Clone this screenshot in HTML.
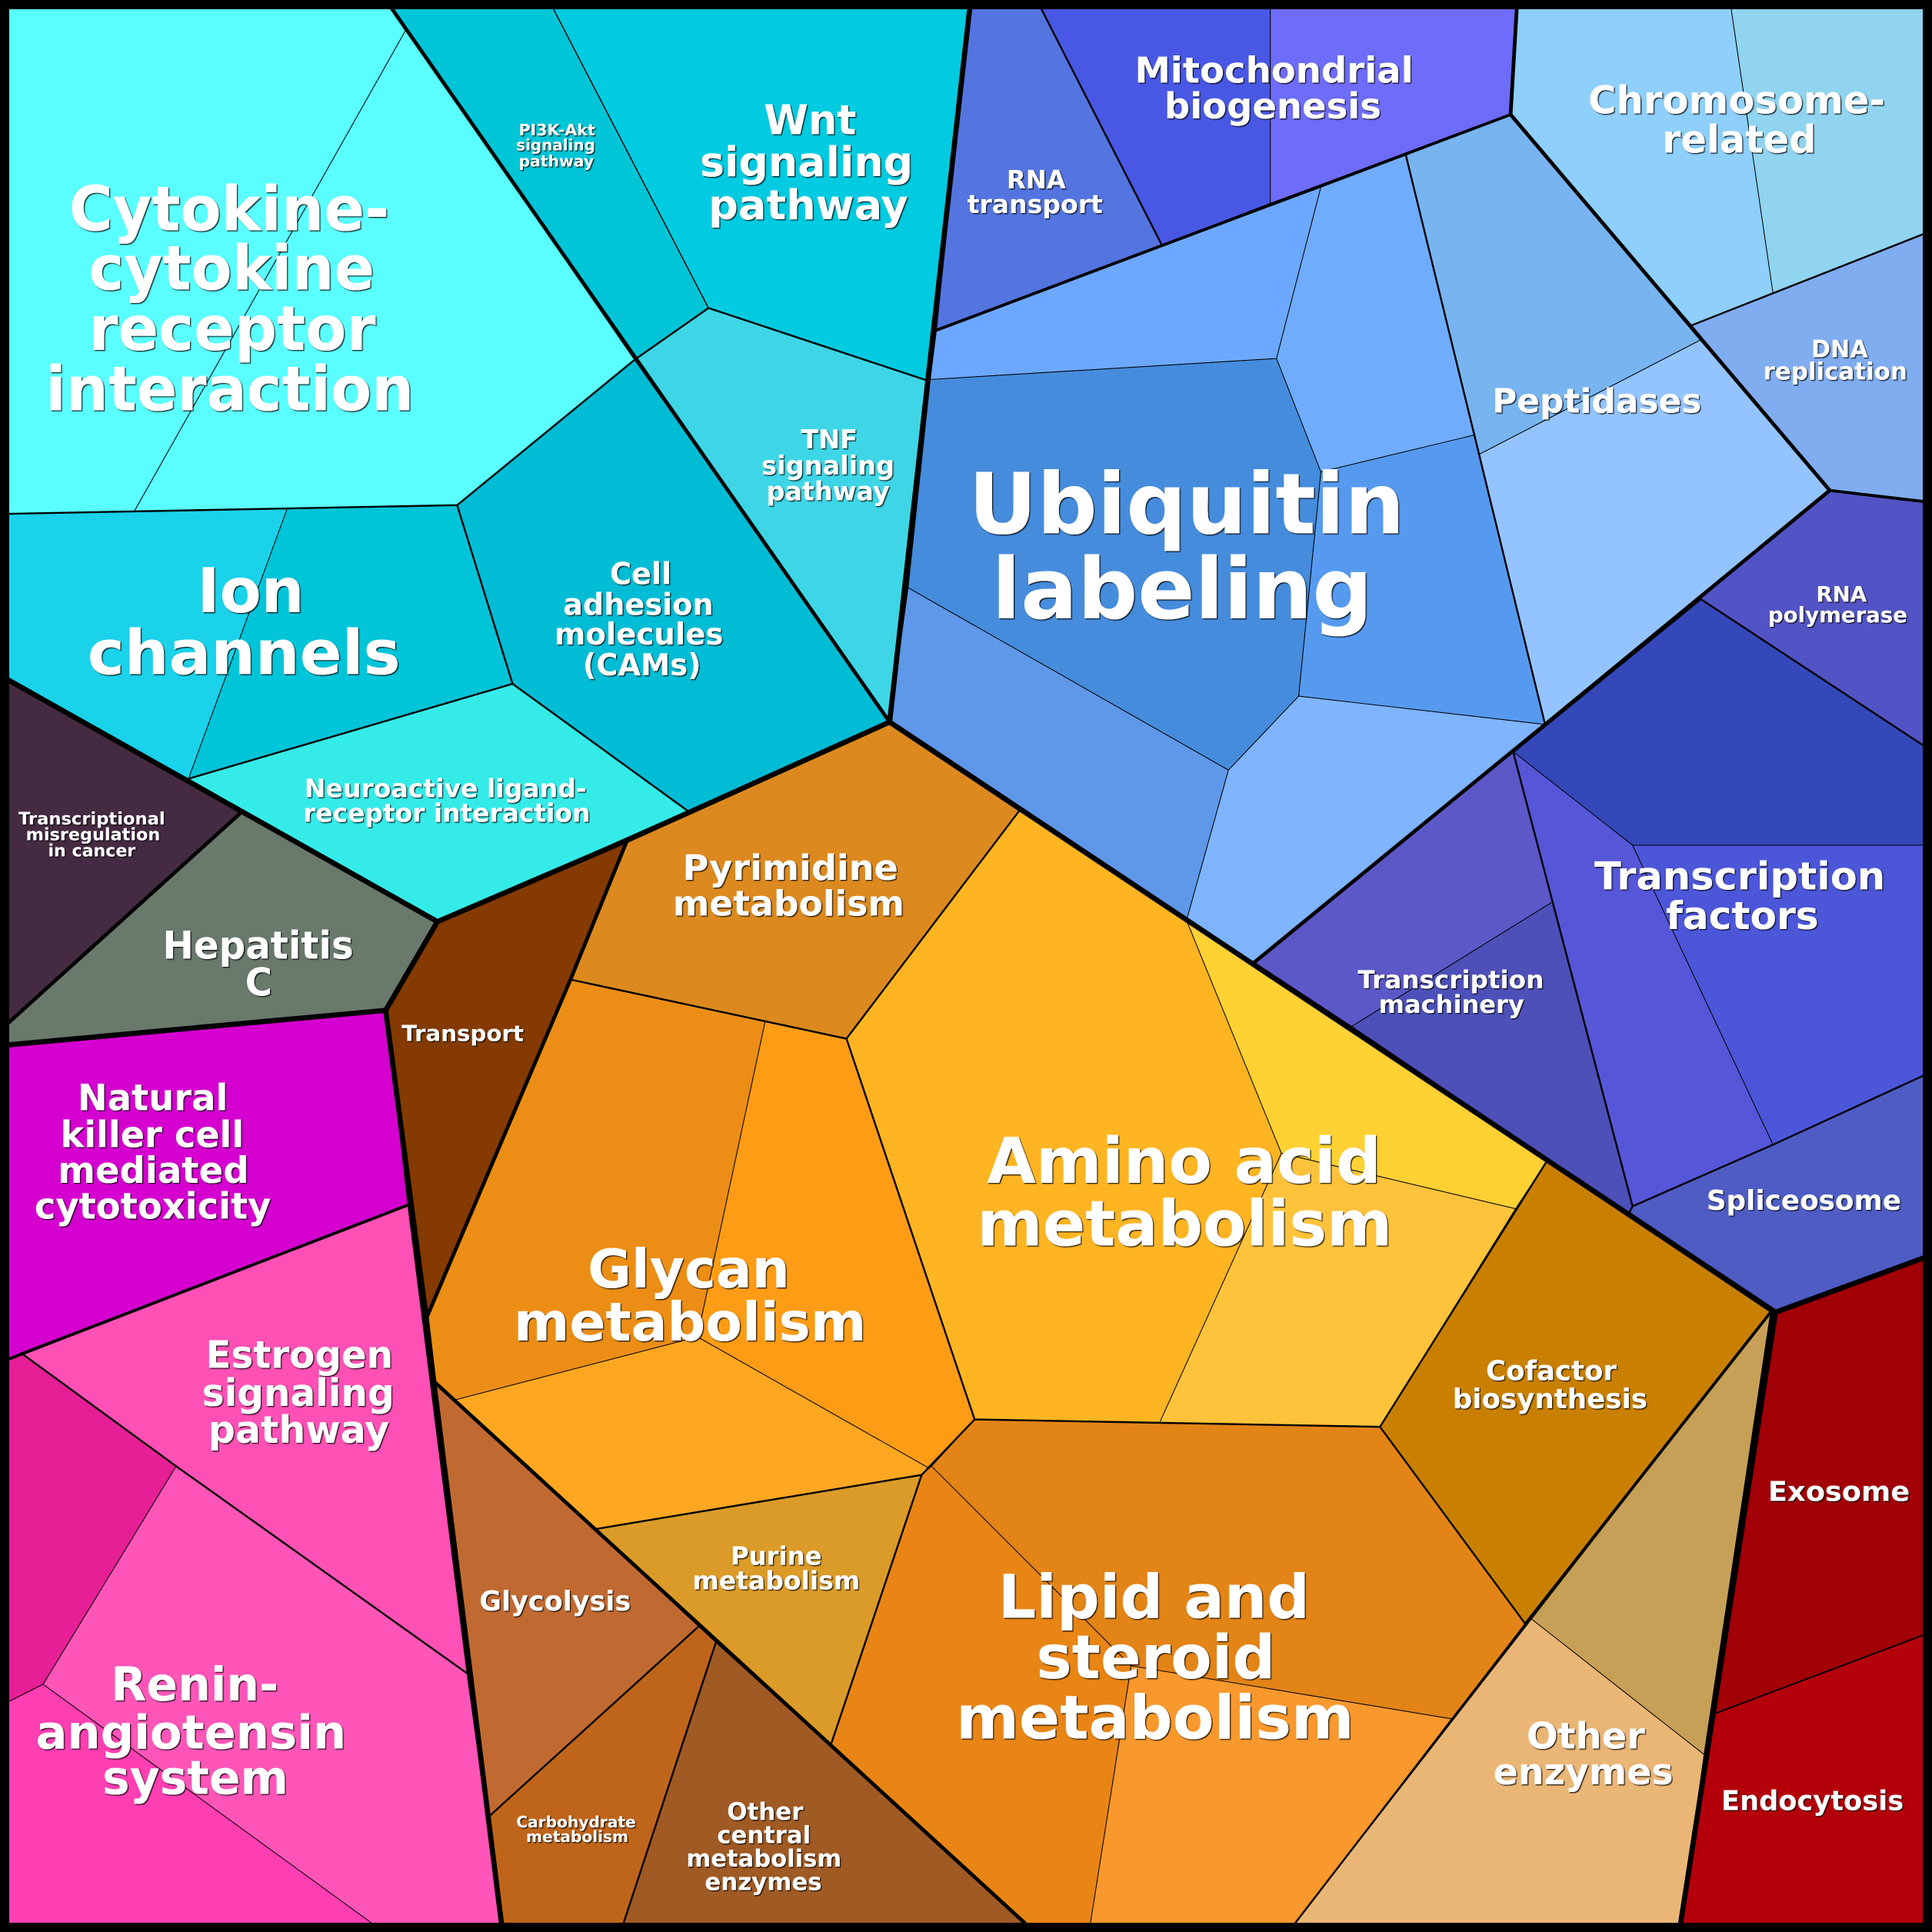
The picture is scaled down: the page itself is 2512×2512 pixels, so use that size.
<!DOCTYPE html>
<html><head><meta charset="utf-8"><style>
html,body{margin:0;padding:0;background:#000}
svg{display:block}
text{font-family:"DejaVu Sans","Liberation Sans",sans-serif;font-weight:bold;fill:#fff}
</style></head><body>
<svg width="2512" height="2512" viewBox="0 0 1568 1568" xmlns="http://www.w3.org/2000/svg">
<defs><filter id="s" x="-5%" y="-5%" width="110%" height="110%"><feDropShadow dx="0.8" dy="0.8" stdDeviation="0.3" flood-color="#000" flood-opacity="0.85"/></filter></defs>
<rect width="1568" height="1568" fill="#000"/>
<g stroke="#000" stroke-width="0.6" stroke-linejoin="round">
<polygon fill="#5affff" points="7,7 318,7 329,25 109,415 7,417"/>
<polygon fill="#5affff" points="318,7 515,292 371,410 109,415 329,25"/>
<polygon fill="#00c5d6" points="318,7 449,7 575,250 515,292"/>
<polygon fill="#00cbe0" points="449,7 787,7 753,309 575,250"/>
<polygon fill="#3ed6e6" points="575,250 753,309 722,586 515,292"/>
<polygon fill="#00bcd4" points="515,292 722,586 558,658 416,555 371,410"/>
<polygon fill="#35ebe8" points="416,555 558,658 355,748 153,632"/>
<polygon fill="#1ad2ea" points="7,417 233,413 153,632 7,552"/>
<polygon fill="#00c4d8" points="233,413 371,410 416,555 153,632"/>
<polygon fill="#452b42" points="7,552 195,660 7,830"/>
<polygon fill="#69796c" points="195,660 355,748 313,820 7,848 7,830"/>
<polygon fill="#843a00" points="355,748 509,682 463,795 346,1070 313,820"/>
<polygon fill="#d500cf" points="7,848 313,820 331,978 7,1103"/>
<polygon fill="#ff50b5" points="17,1098 331,978 379,1358 143,1190"/>
<polygon fill="#e61f96" points="7,1103 17,1098 143,1190 35,1367 7,1381"/>
<polygon fill="#ff55b8" points="143,1190 379,1358 407,1561 302,1561 35,1367"/>
<polygon fill="#ff3eb2" points="7,1381 35,1367 302,1561 7,1561"/>
<polygon fill="#c06a32" points="352,1121 567,1320 396,1475"/>
<polygon fill="#bf651b" points="396,1475 567,1320 581,1333 506,1561 407,1561"/>
<polygon fill="#a05a24" points="581,1333 832,1561 506,1561"/>
<polygon fill="#db9b28" points="483,1241 748,1197 674,1417"/>
<polygon fill="#ec8e15" points="463,795 621,829 566,1085 370,1136 352,1121 346,1070"/>
<polygon fill="#fe9c15" points="621,829 687,843 791,1152 753,1191 566,1085"/>
<polygon fill="#ffa720" points="370,1136 566,1085 753,1191 748,1197 483,1241"/>
<polygon fill="#dc8a1f" points="509,682 722,586 828,657 687,843 463,795"/>
<polygon fill="#ffb522" points="828,657 963,747 1040,936 941,1155 791,1152 687,843"/>
<polygon fill="#ffd133" points="963,747 1255,943 1230,981 1040,936"/>
<polygon fill="#ffc33b" points="1040,936 1230,981 1120,1158 941,1155"/>
<polygon fill="#c98000" points="1255,943 1437,1065 1238,1318 1120,1158"/>
<polygon fill="#c6a056" points="1437,1065 1383,1424 1243,1314"/>
<polygon fill="#eab676" points="1243,1314 1383,1424 1364,1561 1051,1561"/>
<polygon fill="#e38417" points="791,1152 1120,1158 1238,1318 1178,1395 918,1352 756,1190"/>
<polygon fill="#e98515" points="756,1190 918,1352 885,1561 832,1561 674,1417 748,1197"/>
<polygon fill="#f9982c" points="918,1352 1178,1395 1051,1561 885,1561"/>
<polygon fill="#a00006" points="1441,1065 1561,1021 1561,1327 1391,1391"/>
<polygon fill="#b3000b" points="1391,1391 1561,1327 1561,1561 1364,1561"/>
<polygon fill="#4e5cc4" points="1322,985 1325,979 1439,929 1561,873 1561,1021 1441,1065"/>
<polygon fill="#3448ba" points="1228,610 1380,486 1561,605 1561,686 1325,686"/>
<polygon fill="#5656d8" points="1228,610 1325,686 1439,929 1325,979"/>
<polygon fill="#4c56d9" points="1325,686 1561,686 1561,873 1439,929"/>
<polygon fill="#5253c5" points="1485,398 1561,407 1561,605 1380,486"/>
<polygon fill="#5c58c8" points="1018,781 1228,610 1260,732 1097,833"/>
<polygon fill="#4c50b8" points="1097,833 1260,732 1325,979 1322,985"/>
<polygon fill="#80acf0" points="1373,264 1561,190 1561,407 1485,398"/>
<polygon fill="#8ecffc" points="1231,7 1405,7 1439,238 1373,264 1226,93"/>
<polygon fill="#90d4f0" points="1405,7 1561,7 1561,190 1439,238"/>
<polygon fill="#78b4f0" points="1141,126 1226,93 1380,276 1200,369"/>
<polygon fill="#94c4ff" points="1200,369 1380,276 1485,398 1254,588"/>
<polygon fill="#4858e4" points="845,7 1031,7 1031,165 943,199"/>
<polygon fill="#6e6cfa" points="1031,7 1231,7 1226,93 1031,165"/>
<polygon fill="#5474e0" points="787,7 845,7 943,199 760,268"/>
<polygon fill="#6ca8ff" points="760,268 1072,152 1036,291 755,308"/>
<polygon fill="#70acfe" points="1072,152 1141,126 1197,353 1072,383 1036,291"/>
<polygon fill="#569af0" points="1072,383 1197,353 1254,588 1054,565"/>
<polygon fill="#468cdc" points="755,308 1036,291 1072,383 1054,565 997,625 737,477"/>
<polygon fill="#5f98e8" points="737,477 997,625 963,747 722,586"/>
<polygon fill="#7fb4ff" points="1054,565 1254,588 1018,781 963,747 997,625"/>
</g>
<g fill="none" stroke="#000" stroke-width="1.5" stroke-linejoin="round">
<path d="M515,292 L371,410 L7,417"/><path d="M371,410 L416,555 L558,658"/><path d="M416,555 L153,632"/>
<path d="M575,250 L515,292"/><path d="M575,250 L753,309"/><path d="M449,7 L575,250" stroke-width="0.9"/>
<path d="M791,1152 L1120,1158 L1255,943"/><path d="M1120,1158 L1238,1318"/><path d="M687,843 L828,657"/><path d="M463,795 L687,843 L791,1152 L748,1197 L483,1241"/><path d="M748,1197 L674,1417"/><path d="M1238,1318 L1051,1561"/>
<path d="M396,1475 L567,1320"/><path d="M581,1333 L506,1561"/>
<path d="M1373,264 L1439,238 L1561,190"/><path d="M1141,126 L1254,588"/><path d="M845,7 L943,199"/>
<path d="M1228,610 L1325,979 L1322,985"/><path d="M1325,979 L1439,929 L1561,873"/><path d="M1380,486 L1561,605"/>
<path d="M17,1098 L143,1190 L379,1358"/>
</g>
<g fill="none" stroke="#000" stroke-width="2.4" stroke-linejoin="round" stroke-linecap="round">
<path d="M1238,1318 L1437,1065"/><path d="M7,1103 L331,978"/><path d="M1226,93 L760,268"/><path d="M1485,398 L1561,407"/><path d="M1380,486 L1228,610"/>
</g>
<g fill="none" stroke="#000" stroke-width="3" stroke-linejoin="round" stroke-linecap="round">
<path d="M318,7 L722,586"/><path d="M352,1121 L832,1561"/><path d="M509,682 L463,795 L346,1070"/>
<path d="M7,830 L195,660"/><path d="M1231,7 L1226,93 L1485,398 L1254,588 L1018,781"/>
</g>
<g fill="none" stroke="#000" stroke-width="4.2" stroke-linejoin="round" stroke-linecap="round">
<path d="M722,586 L753,309 L787,7"/>
<path d="M7,552 L355,748 L509,682 L722,586"/>
<path d="M7,848 L313,820 L355,748"/>
<path d="M313,820 L346,1070 L352,1121 L407,1561"/>
<path d="M722,586 L1441,1065 L1561,1021"/><path d="M1441,1065 L1364,1561"/>
</g>
<path d="M1391,1391 L1561,1327" fill="none" stroke="#000" stroke-width="1.2"/>
<rect x="3.75" y="3.75" width="1560.5" height="1560.5" fill="none" stroke="#000" stroke-width="7.5"/>
<g filter="url(#s)">
<g font-size="50">
<text x="56" y="187" textLength="260" lengthAdjust="spacingAndGlyphs">Cytokine-</text>
<text x="72" y="235" textLength="232" lengthAdjust="spacingAndGlyphs">cytokine</text>
<text x="72" y="284" textLength="233" lengthAdjust="spacingAndGlyphs">receptor</text>
<text x="37" y="333" textLength="299" lengthAdjust="spacingAndGlyphs">interaction</text>
<text x="160" y="497" textLength="87" lengthAdjust="spacingAndGlyphs">Ion</text>
<text x="71" y="547" textLength="254" lengthAdjust="spacingAndGlyphs">channels</text>
</g>
<g font-size="51">
<text x="801" y="960" textLength="320" lengthAdjust="spacingAndGlyphs">Amino acid</text>
<text x="793" y="1011" textLength="337" lengthAdjust="spacingAndGlyphs">metabolism</text>
</g>
<g font-size="49">
<text x="810" y="1313" textLength="253" lengthAdjust="spacingAndGlyphs">Lipid and</text>
<text x="841" y="1362" textLength="194" lengthAdjust="spacingAndGlyphs">steroid</text>
<text x="776" y="1411" textLength="323" lengthAdjust="spacingAndGlyphs">metabolism</text>
</g>
<g font-size="33.6">
<text x="620" y="109" textLength="75" lengthAdjust="spacingAndGlyphs">Wnt</text>
<text x="568" y="143" textLength="173" lengthAdjust="spacingAndGlyphs">signaling</text>
<text x="575" y="178" textLength="162" lengthAdjust="spacingAndGlyphs">pathway</text>
</g>
<g font-size="12.5">
<text x="421" y="110" textLength="62" lengthAdjust="spacingAndGlyphs">PI3K-Akt</text>
<text x="419" y="122" textLength="64" lengthAdjust="spacingAndGlyphs">signaling</text>
<text x="421" y="135" textLength="61" lengthAdjust="spacingAndGlyphs">pathway</text>
<text x="419" y="1483" textLength="97" lengthAdjust="spacingAndGlyphs">Carbohydrate</text>
<text x="427" y="1495" textLength="83" lengthAdjust="spacingAndGlyphs">metabolism</text>
</g>
<g font-size="21">
<text x="650" y="364" textLength="46" lengthAdjust="spacingAndGlyphs">TNF</text>
<text x="618" y="385" textLength="108" lengthAdjust="spacingAndGlyphs">signaling</text>
<text x="622" y="406" textLength="100" lengthAdjust="spacingAndGlyphs">pathway</text>
<text font-size="20.5" x="247" y="647" textLength="229" lengthAdjust="spacingAndGlyphs">Neuroactive ligand-</text>
<text font-size="20.5" x="246" y="667" textLength="233" lengthAdjust="spacingAndGlyphs">receptor interaction</text>
<text font-size="22.3" x="1385" y="982" textLength="158" lengthAdjust="spacingAndGlyphs">Spliceosome</text>
<text font-size="22" x="1397" y="1469" textLength="148" lengthAdjust="spacingAndGlyphs">Endocytosis</text>
</g>
<g font-size="24.2">
<text x="495" y="474" textLength="50" lengthAdjust="spacingAndGlyphs">Cell</text>
<text x="457" y="499" textLength="122" lengthAdjust="spacingAndGlyphs">adhesion</text>
<text x="450" y="523" textLength="137" lengthAdjust="spacingAndGlyphs">molecules</text>
<text x="473" y="548" textLength="96" lengthAdjust="spacingAndGlyphs">(CAMs)</text>
</g>
<g font-size="13.9">
<text x="15" y="669" textLength="119" lengthAdjust="spacingAndGlyphs">Transcriptional</text>
<text x="21" y="682" textLength="109" lengthAdjust="spacingAndGlyphs">misregulation</text>
<text x="39" y="695" textLength="71" lengthAdjust="spacingAndGlyphs">in cancer</text>
</g>
<g font-size="31.4">
<text x="132" y="778" textLength="155" lengthAdjust="spacingAndGlyphs">Hepatitis</text>
<text x="199" y="808" textLength="22" lengthAdjust="spacingAndGlyphs">C</text>
</g>
<g font-size="29.5">
<text x="63" y="901" textLength="122" lengthAdjust="spacingAndGlyphs">Natural</text>
<text x="49" y="931" textLength="149" lengthAdjust="spacingAndGlyphs">killer cell</text>
<text x="47" y="960" textLength="155" lengthAdjust="spacingAndGlyphs">mediated</text>
<text x="28" y="989" textLength="192" lengthAdjust="spacingAndGlyphs">cytotoxicity</text>
<text x="1239" y="1419" textLength="96" lengthAdjust="spacingAndGlyphs">Other</text>
<text x="1212" y="1448" textLength="146" lengthAdjust="spacingAndGlyphs">enzymes</text>
</g>
<text font-size="17.9" x="326" y="845" textLength="99" lengthAdjust="spacingAndGlyphs">Transport</text>
<g font-size="28.5">
<text x="554" y="714" textLength="175" lengthAdjust="spacingAndGlyphs">Pyrimidine</text>
<text x="546" y="743" textLength="188" lengthAdjust="spacingAndGlyphs">metabolism</text>
</g>
<text font-size="27.4" x="1211" y="335" textLength="170" lengthAdjust="spacingAndGlyphs">Peptidases</text>
<g font-size="43.3">
<text x="477" y="1045" textLength="164" lengthAdjust="spacingAndGlyphs">Glycan</text>
<text x="417" y="1088" textLength="286" lengthAdjust="spacingAndGlyphs">metabolism</text>
</g>
<g font-size="30.5">
<text x="167" y="1110" textLength="152" lengthAdjust="spacingAndGlyphs">Estrogen</text>
<text x="164" y="1141" textLength="156" lengthAdjust="spacingAndGlyphs">signaling</text>
<text x="169" y="1171" textLength="147" lengthAdjust="spacingAndGlyphs">pathway</text>
</g>
<g font-size="31.2">
<text x="1294" y="722" textLength="236" lengthAdjust="spacingAndGlyphs">Transcription</text>
<text x="1352" y="754" textLength="124" lengthAdjust="spacingAndGlyphs">factors</text>
<text x="1289" y="92" textLength="241" lengthAdjust="spacingAndGlyphs">Chromosome-</text>
<text x="1349" y="124" textLength="125" lengthAdjust="spacingAndGlyphs">related</text>
</g>
<g font-size="38">
<text x="90" y="1380" textLength="136" lengthAdjust="spacingAndGlyphs">Renin-</text>
<text x="29" y="1419" textLength="252" lengthAdjust="spacingAndGlyphs">angiotensin</text>
<text x="83" y="1456" textLength="151" lengthAdjust="spacingAndGlyphs">system</text>
</g>
<g font-size="22.2">
<text x="389" y="1307" textLength="123" lengthAdjust="spacingAndGlyphs">Glycolysis</text>
<text x="1206" y="1120" textLength="106" lengthAdjust="spacingAndGlyphs">Cofactor</text>
<text x="1179" y="1143" textLength="158" lengthAdjust="spacingAndGlyphs">biosynthesis</text>
<text x="1435" y="1218" textLength="115" lengthAdjust="spacingAndGlyphs">Exosome</text>
</g>
<g font-size="20.6">
<text x="593" y="1270" textLength="74" lengthAdjust="spacingAndGlyphs">Purine</text>
<text x="562" y="1290" textLength="136" lengthAdjust="spacingAndGlyphs">metabolism</text>
<text x="817" y="153" textLength="48" lengthAdjust="spacingAndGlyphs">RNA</text>
<text x="785" y="173" textLength="110" lengthAdjust="spacingAndGlyphs">transport</text>
</g>
<g font-size="19.2">
<text x="590" y="1477" textLength="62" lengthAdjust="spacingAndGlyphs">Other</text>
<text x="582" y="1496" textLength="76" lengthAdjust="spacingAndGlyphs">central</text>
<text x="557" y="1515" textLength="126" lengthAdjust="spacingAndGlyphs">metabolism</text>
<text x="572" y="1534" textLength="95" lengthAdjust="spacingAndGlyphs">enzymes</text>
</g>
<g font-size="20">
<text x="1102" y="802" textLength="151" lengthAdjust="spacingAndGlyphs">Transcription</text>
<text x="1119" y="822" textLength="118" lengthAdjust="spacingAndGlyphs">machinery</text>
</g>
<g font-size="17.2">
<text x="1474" y="488" textLength="41" lengthAdjust="spacingAndGlyphs">RNA</text>
<text x="1435" y="505" textLength="113" lengthAdjust="spacingAndGlyphs">polymerase</text>
</g>
<g font-size="19.3">
<text x="1470" y="290" textLength="46" lengthAdjust="spacingAndGlyphs">DNA</text>
<text x="1431" y="308" textLength="117" lengthAdjust="spacingAndGlyphs">replication</text>
</g>
<g font-size="29">
<text x="921" y="67" textLength="226" lengthAdjust="spacingAndGlyphs">Mitochondrial</text>
<text x="945" y="96" textLength="176" lengthAdjust="spacingAndGlyphs">biogenesis</text>
</g>
<g font-size="68.5">
<text x="786" y="433" textLength="354" lengthAdjust="spacingAndGlyphs">Ubiquitin</text>
<text x="805" y="502" textLength="309" lengthAdjust="spacingAndGlyphs">labeling</text>
</g>
</g>
</svg>
</body></html>
